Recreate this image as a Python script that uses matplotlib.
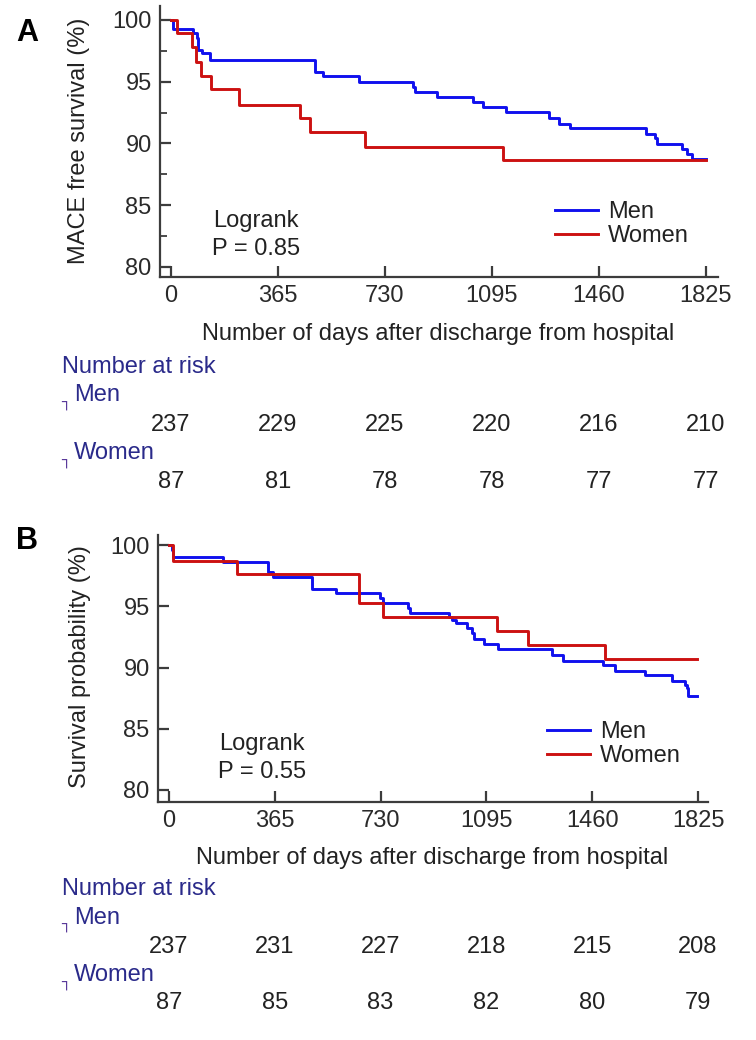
import matplotlib
matplotlib.use("Agg")
import matplotlib.pyplot as plt
from matplotlib.transforms import blended_transform_factory
from matplotlib.ticker import MultipleLocator

plt.rcParams['font.family'] = ['Liberation Sans', 'DejaVu Sans']

# ---- data ----
tick_days = [0, 365, 730, 1095, 1460, 1825]

# panel A : MACE free survival
a_men_days = [0, 6, 74, 88, 93, 105, 133, 491, 517, 642, 827, 832, 906, 1031, 1065,
              1143, 1290, 1325, 1361, 1622, 1651, 1659, 1742, 1759, 1776, 1825]
a_men_surv = [100, 99.24, 98.92, 98.5, 97.6, 97.3, 96.76, 95.82, 95.49, 95.0, 94.6, 94.2,
              93.79, 93.33, 92.93, 92.52, 92.06, 91.58, 91.23, 90.77, 90.45, 89.96, 89.55,
              89.15, 88.74, 88.74]
a_women_days = [0, 19, 70, 85, 102, 135, 233, 440, 474, 662, 1131, 1825]
a_women_surv = [100, 98.92, 97.84, 96.63, 95.47, 94.39, 93.12, 92.04, 90.96, 89.74,
                88.66, 88.66]
a_risk_men = [237, 229, 225, 220, 216, 210]
a_risk_women = [87, 81, 78, 78, 77, 77]

# panel B : survival probability
b_men_days = [0, 9, 15, 187, 343, 358, 492, 576, 728, 737, 826, 831, 966, 975, 990, 1027,
              1044, 1052, 1088, 1136, 1320, 1358, 1498, 1539, 1642, 1734, 1780, 1788, 1791,
              1822]
b_men_surv = [100, 99.6, 99.0, 98.64, 97.8, 97.36, 96.38, 96.05, 95.65, 95.29, 94.83, 94.47,
              94.15, 93.9, 93.66, 93.2, 92.8, 92.3, 91.92, 91.49, 91.0, 90.53, 90.2, 89.74,
              89.4, 88.9, 88.57, 88.3, 87.67, 87.67]
b_women_days = [0, 15, 236, 657, 737, 1133, 1237, 1504, 1822]
b_women_surv = [100, 98.7, 97.6, 95.24, 94.1, 92.98, 91.84, 90.67, 90.67]
b_risk_men = [237, 231, 227, 218, 215, 208]
b_risk_women = [87, 85, 83, 82, 80, 79]

BLUE = "#1010ee"
RED = "#cc1111"
NAVY = "#2a2a8a"
AXC = "#3c3c3c"
FS = 17

W, H = 756, 1040
fig = plt.figure(figsize=(W / 100, H / 100), dpi=100)


def fx(px):
    return px / W


def fy(py):
    return 1 - py / H


def panel(rect, xlim, ylim, men, women, ylabel, minor, letter, letter_y,
          xlabel_xy, ylabel_xy, leg_xy, p_text, p_xy, risk_men, risk_women, rows):
    ax = fig.add_axes(rect)
    ax.step(men[0], men[1], where="post", color=BLUE, lw=2.1, label="Men")
    ax.step(women[0], women[1], where="post", color=RED, lw=2.1, label="Women")
    ax.set_xlim(*xlim)
    ax.set_ylim(*ylim)
    ax.set_xticks(tick_days)
    ax.set_yticks([80, 85, 90, 95, 100])
    if minor:
        ax.yaxis.set_minor_locator(MultipleLocator(2.5))
    for s in ["top", "right"]:
        ax.spines[s].set_visible(False)
    for s in ["left", "bottom"]:
        ax.spines[s].set_color(AXC)
        ax.spines[s].set_linewidth(1.6)
    ax.tick_params(which="major", direction="in", length=8, width=1.6, color=AXC,
                   labelsize=FS, labelcolor="#2a2a2a", pad=6)
    ax.tick_params(which="minor", direction="in", length=5, width=1.3, color=AXC)
    ax.patch.set_alpha(0)

    fig.text(fx(27), fy(letter_y), letter, fontsize=22, fontweight="bold",
             ha="center", va="center")
    fig.text(fx(xlabel_xy[0]), fy(xlabel_xy[1]),
             "Number of days after discharge from hospital",
             fontsize=FS, color="#222222", ha="center", va="center")
    fig.text(fx(ylabel_xy[0]), fy(ylabel_xy[1]), ylabel, fontsize=FS, color="#222222",
             rotation=90, ha="center", va="center")

    ax.legend(loc="center left", bbox_to_anchor=(fx(leg_xy[0]), fy(leg_xy[1])),
              bbox_transform=fig.transFigure, frameon=False, fontsize=FS,
              borderpad=0, borderaxespad=0, handlelength=1.8, handletextpad=0.45,
              labelspacing=0.1, labelcolor="#222222")

    fig.text(fx(p_xy[0]), fy(p_xy[1]), "Logrank", fontsize=FS, color="#222222",
             ha="center", va="center")
    fig.text(fx(p_xy[0]), fy(p_xy[1] + 28), p_text, fontsize=FS, color="#222222",
             ha="center", va="center")

    # number at risk table
    y_nar, y_men, y_mnum, y_wom, y_wnum = rows
    fig.text(fx(62), fy(y_nar), "Number at risk", fontsize=FS, color=NAVY,
             ha="left", va="center")
    for lab, yy in [("Men", y_men), ("Women", y_wom)]:
        fig.text(fx(66), fy(yy + 7), "\u2510", fontsize=11, color="#5a3a9a",
                 family="DejaVu Sans", ha="center", va="center")
        fig.text(fx(74), fy(yy), lab, fontsize=FS, color=NAVY, ha="left", va="center")
    trans = blended_transform_factory(ax.transData, fig.transFigure)
    for d, m, w in zip(tick_days, risk_men, risk_women):
        ax.text(d, fy(y_mnum), str(m), transform=trans, fontsize=FS, color="#222222",
                ha="center", va="center", clip_on=False)
        ax.text(d, fy(y_wnum), str(w), transform=trans, fontsize=FS, color="#222222",
                ha="center", va="center", clip_on=False)
    return ax


panel([fx(160), fy(277), (718 - 160) / W, (277 - 6) / H],
      (-37.5, 1866), (79.19, 101.13),
      (a_men_days, a_men_surv), (a_women_days, a_women_surv),
      "MACE free survival (%)", True, "A", 33,
      (438, 334), (79, 141), (555, 224), "P = 0.85", (256, 221),
      a_risk_men, a_risk_women, (367, 395, 425, 453, 482))

panel([fx(158), fy(802), (708 - 158) / W, (802 - 535) / H],
      (-38, 1859.5), (79.02, 100.82),
      (b_men_days, b_men_surv), (b_women_days, b_women_surv),
      "Survival probability (%)", False, "B", 541,
      (432, 858), (80, 667), (547, 744), "P = 0.55", (262, 744),
      b_risk_men, b_risk_women, (889, 918, 947, 975, 1003))

fig.savefig("out.png", dpi=100)
